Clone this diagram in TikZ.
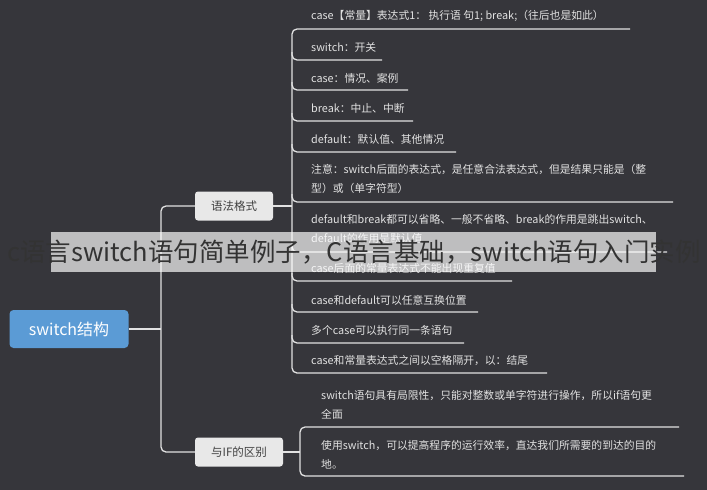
\documentclass[tikz,border=0pt]{standalone}
\usepackage{fontspec}
\setmainfont{Noto Sans CJK SC}
\usetikzlibrary{positioning}
\definecolor{bgc}{HTML}{36363B}
\definecolor{linec}{HTML}{E2E2E2}
\definecolor{rootc}{HTML}{5B9BD5}
\definecolor{boxc}{HTML}{E8E8E8}
\tikzset{
  leaf/.style={anchor=west, text=linec, font=\fontsize{10.8}{19}\selectfont, inner sep=0pt, align=left},
  branch/.style={draw=none, fill=boxc, rounded corners=3pt, text=black!75, font=\fontsize{11.5}{13}\selectfont, minimum height=29pt},
  link/.style={draw=linec, line width=1.3pt, rounded corners=5pt},
}
\begin{document}
\begin{tikzpicture}[x=1pt, y=-1pt]
        \fill[bgc] (0,0) rectangle (707,490);
        \useasboundingbox (0,0) rectangle (707,490);
        \node[fill=rootc, rounded corners=4pt, text=white, font=\fontsize{16}{18}\selectfont, minimum width=119pt, minimum height=38pt] (root) at (69,329) {switch结构};
        \node[branch, minimum width=78pt] (syn) at (234,206) {语法格式};
        \node[branch, minimum width=88pt] (dif) at (239,452) {与IF的区别};
        \coordinate (spine) at (161,329);
        \draw[link] (root.east) -- (spine);
        \draw[link] (syn.west) -| (spine) |- (dif.west);
        % syntax group
        \draw[link] (syn.east) -- (292,206);
        \draw[link] (630,29) -- (292,29) -- (292,373) -- (547,373);
        \node[leaf] (s1) at (311,16) {case【常量】表达式1： 执行语 句1; break;（往后也是如此）};
        \node[leaf] (s2) at (311,47) {switch：开关};
        \node[leaf] (s3) at (311,78) {case：情况、案例};
        \node[leaf] (s4) at (311,108) {break：中止、中断};
        \node[leaf] (s5) at (311,139) {default：默认值、其他情况};
        \node[leaf] (s6) at (311,179) {注意：switch后面的表达式，是任意合法表达式，但是结果只能是（整\\型）或（单字符型）};
        \node[leaf] (s7) at (311,229) {default和break都可以省略、一般不省略、break的作用是跳出switch、\\default的作用是默认值};
        \node[leaf] (s8) at (311,268) {case后面的常量表达式不能出现重复值};
        \node[leaf] (s9) at (311,300) {case和default可以任意互换位置};
        \node[leaf] (s10) at (311,330) {多个case可以执行同一条语句};
        \node[leaf] (s11) at (311,361) {case和常量表达式之间以空格隔开，以：结尾};
        \draw[link] (292,52) |- (382,60);
        \draw[link] (292,82) |- (408,90);
        \draw[link] (292,113) |- (413,121);
        \draw[link] (292,144) |- (456,152);
        \draw[link] (292,194) |- (673,202);
        \draw[link] (292,244) |- (667,252);
        \draw[link] (292,273) |- (512,281);
        \draw[link] (292,304) |- (478,312);
        \draw[link] (292,335) |- (464,343);
        % if group
        \draw[link] (dif.east) -- (300,452);
        \draw[link] (679,427) -- (300,427) -- (300,476) -- (684,476);
        \node[leaf] (d1) at (321,405) {switch语句具有局限性，只能对整数或单字符进行操作，所以if语句更\\全面};
        \node[leaf] (d2) at (321,455) {使用switch，可以提高程序的运行效率，直达我们所需要的到达的目的\\地。};
        % watermark
        \fill[white, opacity=0.68] (51,232) rectangle (656,272);
        \node[text=black!80, font=\fontsize{25.5}{27}\selectfont, inner sep=0pt] (wm) at (354,252) {c语言switch语句简单例子，C语言基础，switch语句入门实例};
\end{tikzpicture}
\end{document}
